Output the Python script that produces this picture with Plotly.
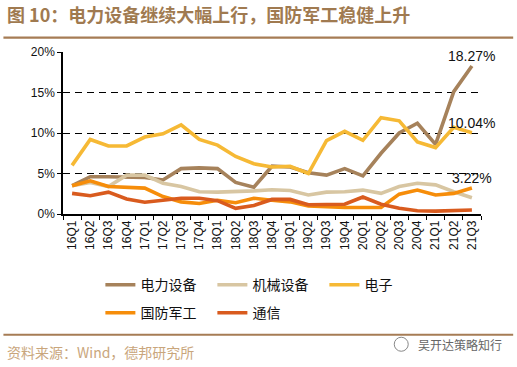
import plotly.graph_objects as go

categories = ["16Q1", "16Q2", "16Q3", "16Q4", "17Q1", "17Q2", "17Q3", "17Q4",
              "18Q1", "18Q2", "18Q3", "18Q4", "19Q1", "19Q2", "19Q3", "19Q4",
              "20Q1", "20Q2", "20Q3", "20Q4", "21Q1", "21Q2", "21Q3"]

power_equipment = [3.5, 4.6, 4.6, 4.6, 4.5, 4.2, 5.6, 5.7, 5.6, 3.9, 3.3, 5.9,
                   5.8, 5.1, 4.8, 5.6, 4.7, 7.5, 10.0, 11.2, 8.6, 15.1, 18.27]
machinery = [3.5, 3.9, 3.4, 4.8, 4.8, 3.8, 3.4, 2.75, 2.7, 2.75, 2.85, 3.0,
             2.9, 2.35, 2.7, 2.75, 2.95, 2.55, 3.4, 3.8, 3.6, 2.75, 2.0]
electronics = [6.0, 9.2, 8.4, 8.4, 9.5, 9.9, 11.0, 9.2, 8.5, 7.1, 6.2, 5.8,
               5.9, 5.0, 9.05, 10.2, 9.1, 11.9, 11.5, 8.9, 8.2, 10.7, 10.04]
defense = [3.5, 4.1, 3.4, 3.25, 3.2, 2.15, 1.5, 1.3, 1.7, 1.4, 1.95, 1.7,
           1.5, 1.0, 0.85, 0.8, 0.8, 0.8, 2.45, 2.95, 2.35, 2.55, 3.22]
telecom = [2.55, 2.25, 2.7, 1.85, 1.45, 1.65, 1.95, 1.95, 1.65, 0.7, 1.05, 1.8,
           1.8, 1.15, 1.2, 1.2, 2.1, 1.2, 0.7, 0.4, 0.35, 0.4, 0.5]

y_ticks = [0, 5, 10, 15, 20]
y_tick_labels = [f"{v}%" for v in y_ticks]

series = [
    ("电力设备", power_equipment, "#A6825B", "legend", True),
    ("机械设备", machinery, "#D8C6A2", "legend", False),
    ("电子", electronics, "#F6B935", "legend", True),
    ("国防军工", defense, "#F68D0A", "legend2", True),
    ("通信", telecom, "#D95B1E", "legend2", False),
]

W, H = 517, 367
L, R, T, B = 62.6, 36.2, 52.3, 153.0
PW, PH = W - L - R, H - T - B


def px_x(x):
    return (x - L) / PW


def px_y(y):
    return (H - B - y) / PH


fig = go.Figure()
for name, vals, color, leg, labeled in series:
    fig.add_trace(go.Scatter(
        x=categories, y=vals, name=name, mode="lines",
        line=dict(color=color, width=3.6), legend=leg,
    ))

annotations = []
for name, vals, color, leg, labeled in series:
    if labeled:
        annotations.append(dict(
            x=categories[-1], y=vals[-1], xref="x", yref="y",
            text=f"{vals[-1]:.2f}%", showarrow=False, yshift=10,
            xanchor="center", yanchor="middle",
            font=dict(family="Liberation Sans, Arial", size=14, color="#111111"),
        ))

annotations.append(dict(
    x=px_x(5), y=px_y(14), xref="paper", yref="paper",
    text="<b>图 10：电力设备继续大幅上行，国防军工稳健上升</b>",
    showarrow=False, xanchor="left", yanchor="middle",
    font=dict(family="Noto Sans CJK SC", size=18, color="#A07A50"),
))
annotations.append(dict(
    x=px_x(5), y=px_y(352), xref="paper", yref="paper",
    text="资料来源：Wind，德邦研究所",
    showarrow=False, xanchor="left", yanchor="middle",
    font=dict(family="Noto Sans CJK SC", size=14, color="#C9A67C"),
))
annotations.append(dict(
    x=px_x(416), y=px_y(344), xref="paper", yref="paper",
    text="吴开达策略知行",
    showarrow=False, xanchor="left", yanchor="middle",
    font=dict(family="Noto Sans CJK SC", size=12, color="#666666"),
))

shapes = [
    dict(type="line", xref="paper", yref="paper",
         x0=px_x(3), x1=px_x(513), y0=px_y(38), y1=px_y(38),
         line=dict(color="#A67C55", width=2.2)),
    dict(type="line", xref="paper", yref="paper",
         x0=px_x(3), x1=px_x(513), y0=px_y(334.5), y1=px_y(334.5),
         line=dict(color="#A67C55", width=2)),
    dict(type="circle", xref="paper", yref="paper",
         x0=px_x(394), x1=px_x(408), y0=px_y(351), y1=px_y(337),
         line=dict(color="#888888", width=1)),
]

legend_common = dict(
    orientation="h", xanchor="left", yanchor="top",
    entrywidth=67, entrywidthmode="pixels",
    bgcolor="rgba(0,0,0,0)", borderwidth=0,
    font=dict(family="Noto Sans CJK SC", size=14, color="#111111"),
    itemclick=False, itemdoubleclick=False,
)

fig.update_layout(
    template="none",
    width=W, height=H,
    margin=dict(l=L, r=R, t=T, b=B, autoexpand=False),
    paper_bgcolor="white", plot_bgcolor="white",
    showlegend=True,
    legend=dict(x=px_x(100), y=px_y(269), **legend_common),
    legend2=dict(x=px_x(100), y=px_y(297), **legend_common),
    annotations=annotations,
    shapes=shapes,
    xaxis=dict(
        type="category", range=[-0.5, len(categories) - 0.5],
        showgrid=False, zeroline=False,
        showline=True, linecolor="#000000", linewidth=1.5,
        ticks="outside", tickson="boundaries", ticklen=4, tickwidth=1.2,
        tickcolor="#000000", tickangle=-90, automargin=False,
        tickfont=dict(family="Liberation Sans, Arial", size=12, color="#111111"),
    ),
    yaxis=dict(
        range=[0, 20], tickmode="array", tickvals=y_ticks, ticktext=y_tick_labels,
        showgrid=True, gridcolor="#000000", gridwidth=1.2, griddash="7px,5px",
        zeroline=False, showline=True, linecolor="#000000", linewidth=1.5,
        ticks="outside", ticklen=4, tickwidth=1.2, tickcolor="#000000",
        automargin=False,
        tickfont=dict(family="Liberation Sans, Arial", size=12, color="#111111"),
    ),
)

fig.write_html(
    "out.html",
    config={"displayModeBar": False},
    post_script="document.body.style.margin='0';document.body.style.padding='0';",
)
